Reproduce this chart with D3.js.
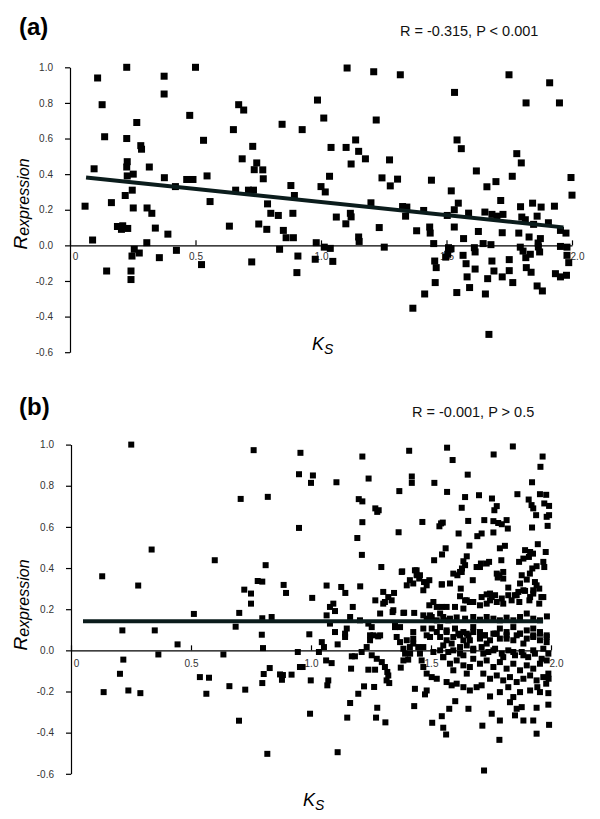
<!DOCTYPE html>
<html>
<head>
<meta charset="utf-8">
<script src="https://cdn.jsdelivr.net/npm/d3@7"></script>
<style>
  body { margin: 0; background: #fff; }
  text { font-family: Arial, "Liberation Sans", sans-serif; }
</style>
</head>
<body>
<svg id="chart" width="600" height="819"></svg>
<script>
// tick values shared by both panels
const xTicks = [0, 0.5, 1.0, 1.5, 2.0];
const yTicks = [-0.6, -0.4, -0.2, 0.0, 0.2, 0.4, 0.6, 0.8, 1.0];

const panelLabels = ["(a)", "(b)"];
const statLabels = ["R = -0.315, P < 0.001", "R = -0.001, P > 0.5"];

// panel (a): [Ks, R expression]
const seriesA = [
  [0.06, 0.22], [0.09, 0.03], [0.096, 0.43], [0.11, 0.94], [0.128, 0.79], [0.138, 0.61],
  [0.165, 0.24], [0.226, 1.0], [0.226, 0.60], [0.228, 0.47], [0.226, 0.44], [0.228, 0.39],
  [0.252, 0.40], [0.22, 0.28], [0.248, 0.31], [0.266, 0.69], [0.189, 0.106], [0.205, 0.09],
  [0.21, 0.11], [0.23, 0.095], [0.252, 0.21], [0.282, 0.56], [0.285, 0.54], [0.316, 0.44],
  [0.307, 0.21], [0.326, 0.18], [0.306, 0.015], [0.34, 0.097], [0.375, 0.95], [0.375, 0.85],
  [0.376, 0.38], [0.39, 0.063], [0.42, 0.33], [0.5, 1.0], [0.477, 0.73], [0.465, 0.37],
  [0.49, 0.37], [0.532, 0.59], [0.546, 0.39], [0.558, 0.246], [0.635, 0.108], [0.651, 0.65],
  [0.672, 0.79], [0.692, 0.76], [0.686, 0.486], [0.728, 0.556], [0.744, 0.463], [0.734, 0.425],
  [0.768, 0.424], [0.77, 0.374], [0.66, 0.31], [0.711, 0.31], [0.731, 0.31], [0.787, 0.233],
  [0.80, 0.18], [0.83, 0.168], [0.752, 0.12], [0.784, 0.09], [0.845, 0.68], [0.88, 0.336],
  [0.894, 0.28], [0.888, 0.18], [0.85, 0.084], [0.861, 0.043], [0.89, 0.043], [0.835, -0.022],
  [0.925, 0.65], [0.146, -0.144], [0.243, -0.144], [0.243, -0.192], [0.247, -0.06], [0.256, -0.022],
  [0.276, -0.043], [0.356, -0.069], [0.424, -0.028], [0.524, -0.108], [0.724, -0.093], [0.908, -0.06],
  [0.904, -0.153],
  [1.104, 0.996], [1.21, 0.975], [1.316, 0.958], [0.986, 0.816], [1.011, 0.715], [1.22, 0.704],
  [1.138, 0.592], [1.04, 0.55], [1.10, 0.55], [1.15, 0.528], [1.177, 0.486], [1.12, 0.457],
  [1.273, 0.48], [1.034, 0.388], [1.243, 0.379], [1.305, 0.372], [1.276, 0.334], [1.0, 0.33],
  [1.017, 0.30], [1.44, 0.366], [1.532, 0.859], [1.542, 0.592], [1.559, 0.543], [1.619, 0.418],
  [1.519, 0.306], [1.661, 0.329], [1.697, 0.358], [1.716, 0.252], [1.762, 0.388], [1.78, 0.515],
  [1.798, 0.463], [1.749, 0.958], [1.817, 0.8], [1.911, 0.913], [1.95, 0.8], [1.996, 0.381],
  [2.0, 0.282], [1.199, 0.239], [1.325, 0.218], [1.342, 0.215], [1.337, 0.164], [1.409, 0.196],
  [1.061, 0.159], [1.117, 0.18], [1.12, 0.16], [1.099, 0.121], [1.232, 0.10], [1.381, 0.082],
  [1.433, 0.103], [1.435, 0.069], [1.15, 0.047], [1.152, 0.022], [1.503, 0.168], [1.531, 0.2],
  [1.547, 0.237], [1.531, 0.103], [1.568, 0.038], [1.588, 0.181], [1.627, 0.078], [1.653, 0.187],
  [1.681, 0.174], [1.701, 0.164], [1.725, 0.174], [1.722, 0.071], [1.788, 0.069], [1.795, 0.217],
  [1.8, 0.159], [1.814, 0.144], [1.843, 0.237], [1.877, 0.215], [1.861, 0.164], [1.847, 0.118],
  [1.829, 0.047], [1.874, 0.038], [1.93, 0.22], [1.906, 0.127], [1.954, 0.084], [1.976, 0.069],
  [0.981, 0.015], [1.013, -0.01], [1.037, -0.017], [1.252, -0.01], [1.449, 0.01], [1.508, -0.013],
  [1.611, -0.013], [1.646, 0.01], [1.677, 0.004], [1.794, -0.01], [1.865, 0.013], [1.954, -0.006],
  [1.98, -0.01],
  [0.977, -0.078], [1.047, -0.09], [1.518, -0.019], [1.497, -0.066], [1.505, -0.05], [1.453, -0.088],
  [1.459, -0.125], [1.455, -0.209], [1.413, -0.273], [1.366, -0.353], [1.566, -0.056], [1.578, -0.103],
  [1.614, -0.037], [1.614, -0.133], [1.582, -0.177], [1.592, -0.237], [1.541, -0.265], [1.681, -0.088],
  [1.689, -0.144], [1.664, -0.187], [1.655, -0.273], [1.722, -0.177], [1.75, -0.08], [1.75, -0.142],
  [1.764, -0.209], [1.669, -0.5], [1.805, -0.032], [1.816, -0.069], [1.834, -0.05], [1.866, -0.009],
  [1.871, -0.037], [1.818, -0.125], [1.837, -0.151], [1.861, -0.228], [1.882, -0.256], [1.98, -0.056],
  [1.987, -0.097], [1.934, -0.159], [1.954, -0.177], [1.978, -0.168]
];
const fitA = [[0.064, 0.381], [1.966, 0.101]];

// panel (b): [Ks, R expression]
const seriesB = [
  [0.251, 1.0], [0.761, 0.973], [0.956, 0.96], [1.214, 0.942], [1.409, 0.97], [1.567, 0.985],
  [1.59, 0.925], [1.761, 0.952], [1.841, 0.991], [1.965, 0.942], [1.956, 0.892], [0.95, 0.856],
  [1.008, 0.85], [1.106, 0.817], [1.24, 0.835], [1.42, 0.845], [1.653, 0.854], [1.921, 0.817],
  [0.13, 0.36], [0.336, 0.49], [0.28, 0.315], [0.599, 0.438], [0.512, 0.177], [0.214, 0.097],
  [0.349, 0.097], [0.707, 0.736], [0.82, 0.746], [0.95, 0.595], [0.811, 0.414], [0.722, 0.295],
  [0.75, 0.276], [0.778, 0.337], [0.797, 0.334], [0.75, 0.227], [0.886, 0.318], [0.896, 0.279],
  [0.701, 0.182], [0.797, 0.156], [0.836, 0.162], [0.686, 0.115], [0.795, 0.076],
  [0.444, 0.029], [0.8, 0.011], [0.945, -0.008], [0.218, -0.045], [0.364, -0.02], [0.635, -0.02],
  [0.204, -0.114], [0.136, -0.203], [0.239, -0.195], [0.289, -0.208], [0.537, -0.13], [0.575, -0.133],
  [0.564, -0.211], [0.66, -0.174], [0.726, -0.191], [0.7, -0.342], [0.818, -0.503], [0.797, -0.159],
  [0.803, -0.115], [0.828, -0.086], [0.871, -0.117], [0.879, -0.143], [0.883, -0.12], [0.919, -0.118],
  [0.954, -0.081],
  [1.0, 0.814], [1.42, 0.814], [1.514, 0.814], [1.368, 0.774], [1.567, 0.77], [1.642, 0.745],
  [1.7, 0.754], [1.754, 0.738], [1.86, 0.759], [1.954, 0.759], [1.98, 0.756], [1.199, 0.735],
  [1.214, 0.724], [1.907, 0.733], [1.919, 0.706], [1.926, 0.69], [1.972, 0.714], [1.992, 0.702],
  [1.628, 0.693], [1.774, 0.701], [1.764, 0.681], [1.268, 0.69], [1.282, 0.681], [1.276, 0.673],
  [1.938, 0.657], [1.982, 0.649], [1.992, 0.657], [1.214, 0.623], [1.464, 0.624], [1.542, 0.617],
  [1.549, 0.621], [1.535, 0.603], [1.655, 0.629], [1.722, 0.633], [1.76, 0.628], [1.78, 0.619],
  [1.795, 0.613], [1.815, 0.633], [1.82, 0.592], [1.986, 0.605], [1.921, 0.597], [1.193, 0.546],
  [1.365, 0.574], [1.615, 0.568], [1.693, 0.555], [1.711, 0.568], [1.76, 0.573], [1.212, 0.464],
  [1.66, 0.509], [1.787, 0.496], [1.808, 0.508], [1.945, 0.516], [1.561, 0.496], [1.546, 0.466],
  [1.892, 0.487], [1.913, 0.478], [1.978, 0.478], [1.513, 0.438], [1.649, 0.457], [1.635, 0.433],
  [1.642, 0.414], [1.629, 0.398], [1.69, 0.405], [1.708, 0.422], [1.742, 0.43], [1.793, 0.438],
  [1.867, 0.43], [1.885, 0.446], [1.908, 0.454], [1.925, 0.47], [1.94, 0.409], [1.968, 0.43],
  [1.972, 0.405], [1.293, 0.405], [1.38, 0.384], [1.433, 0.389], [1.44, 0.365], [1.451, 0.349],
  [1.471, 0.332], [1.482, 0.316], [1.493, 0.341], [1.412, 0.341], [1.399, 0.316], [1.593, 0.373],
  [1.61, 0.365], [1.628, 0.381], [1.674, 0.341], [1.801, 0.381], [1.778, 0.354], [1.785, 0.365],
  [1.878, 0.365], [1.899, 0.344], [1.912, 0.373], [1.922, 0.398], [1.871, 0.325], [1.933, 0.332],
  [1.94, 0.316], [1.951, 0.3], [1.926, 0.292], [1.065, 0.315], [1.126, 0.308], [1.143, 0.279],
  [1.205, 0.311], [1.005, 0.255], [1.545, 0.32], [1.579, 0.325], [1.624, 0.3], [1.822, 0.305],
  [1.864, 0.284], [1.85, 0.268], [1.301, 0.284], [1.322, 0.259], [1.346, 0.279], [1.308, 0.235],
  [1.336, 0.243], [1.268, 0.243], [1.621, 0.263], [1.642, 0.243], [1.662, 0.235], [1.711, 0.259],
  [1.732, 0.272], [1.753, 0.259], [1.767, 0.268], [1.746, 0.243], [1.732, 0.227], [1.774, 0.235],
  [1.795, 0.252], [1.801, 0.227], [1.822, 0.268], [1.836, 0.243], [1.51, 0.235], [1.493, 0.219],
  [1.524, 0.211], [1.545, 0.211], [1.565, 0.211], [1.6, 0.211], [1.635, 0.203], [1.868, 0.235],
  [1.892, 0.289], [1.91, 0.243], [1.926, 0.276], [1.951, 0.227], [1.96, 0.259], [1.093, 0.227],
  [1.079, 0.211], [1.1, 0.191], [1.065, 0.17], [1.174, 0.211], [1.163, 0.162], [1.288, 0.179],
  [1.34, 0.186], [1.388, 0.183], [1.43, 0.182], [1.468, 0.17], [1.482, 0.154], [1.503, 0.162],
  [1.524, 0.146], [1.551, 0.162], [1.572, 0.146], [1.607, 0.16], [1.642, 0.154], [1.676, 0.162],
  [1.704, 0.149], [1.732, 0.162], [1.76, 0.154], [1.787, 0.146], [1.815, 0.159], [1.843, 0.146],
  [1.871, 0.162], [1.899, 0.179], [1.926, 0.154], [1.954, 0.146], [1.983, 0.165], [1.204, 0.146],
  [1.239, 0.13], [1.253, 0.113], [1.35, 0.122], [0.993, 0.078], [1.079, 0.13], [1.1, 0.089],
  [1.142, 0.081], [1.149, 0.106], [1.246, 0.073], [1.288, 0.073], [1.357, 0.065], [1.426, 0.057],
  [1.482, 0.073], [1.503, 0.106], [1.538, 0.113], [1.565, 0.089], [1.6, 0.106], [1.621, 0.073],
  [1.649, 0.081], [1.676, 0.113], [1.704, 0.089], [1.725, 0.073], [1.76, 0.081], [1.787, 0.106],
  [1.815, 0.089], [1.843, 0.113], [1.871, 0.081], [1.899, 0.097], [1.926, 0.106], [1.954, 0.081],
  [1.982, 0.073],
  [1.378, 0.381], [1.44, 0.389], [1.454, 0.365], [1.426, 0.325], [1.468, 0.292], [1.545, 0.321],
  [1.621, 0.381], [1.704, 0.405], [1.732, 0.422], [1.774, 0.373], [1.801, 0.349], [1.649, 0.243],
  [1.676, 0.235], [1.704, 0.219], [1.746, 0.276], [1.857, 0.268], [1.885, 0.292], [1.913, 0.259],
  [1.968, 0.259], [1.301, 0.227], [1.343, 0.195], [1.385, 0.182], [1.496, 0.17], [1.538, 0.179],
  [1.579, 0.154],
  [1.371, 0.113], [1.426, 0.089], [1.468, 0.106], [1.496, 0.065], [1.524, 0.089], [1.565, 0.049],
  [1.635, 0.089], [1.662, 0.049], [1.704, 0.065], [1.732, 0.033], [1.774, 0.081], [1.815, 0.057],
  [1.857, 0.073], [1.885, 0.033], [1.926, 0.065], [1.954, 0.089], [1.982, 0.04],
  [1.385, 0.008], [1.413, -0.016], [1.468, 0.016], [1.51, -0.008], [1.551, -0.033], [1.593, 0.0],
  [1.635, -0.024], [1.676, 0.008], [1.718, -0.016], [1.76, 0.0], [1.801, -0.033], [1.843, -0.008],
  [1.885, -0.024], [1.926, 0.0], [1.968, 0.008],
  [1.045, 0.04], [1.054, 0.016], [1.033, -0.008], [0.965, -0.081], [1.063, -0.049], [1.086, -0.062],
  [0.999, -0.146], [1.072, -0.146], [1.068, -0.17], [0.996, -0.308], [1.111, -0.495], [1.111, 0.029],
  [1.142, 0.065], [1.17, -0.029], [1.183, -0.029], [1.167, -0.089], [1.211, -0.008], [1.232, 0.016],
  [1.246, 0.049], [1.26, 0.073], [1.28, 0.068], [1.253, -0.024], [1.274, -0.041], [1.295, -0.057],
  [1.308, -0.081], [1.318, -0.105], [1.322, -0.122], [1.315, -0.146], [1.239, -0.094], [1.267, -0.094],
  [1.326, -0.159], [1.221, -0.175], [1.263, -0.178], [1.197, -0.211], [1.163, -0.256], [1.151, -0.327],
  [1.276, -0.279], [1.271, -0.327], [1.31, -0.35], [1.35, 0.113], [1.371, 0.04], [1.374, -0.084],
  [1.399, 0.049], [1.412, 0.016], [1.392, -0.016], [1.385, -0.049], [1.405, -0.045], [1.433, -0.187],
  [1.43, -0.271], [1.426, 0.033], [1.447, 0.016], [1.454, -0.016], [1.461, -0.049], [1.468, -0.081],
  [1.482, -0.113], [1.503, -0.13], [1.524, -0.138], [1.482, -0.195], [1.475, -0.214], [1.505, -0.352],
  [1.545, -0.32], [1.551, -0.376], [1.563, -0.409], [1.576, -0.284], [1.601, -0.247], [1.538, 0.0],
  [1.551, -0.033], [1.572, -0.008], [1.579, -0.065], [1.593, -0.097], [1.607, -0.049], [1.621, -0.016],
  [1.635, -0.073], [1.649, -0.113], [1.662, -0.081], [1.565, -0.154], [1.586, -0.17], [1.607, -0.162],
  [1.635, -0.179], [1.662, -0.195], [1.69, -0.179],
  [1.538, 0.065], [1.565, 0.097], [1.593, 0.065], [1.614, 0.081], [1.635, 0.049], [1.656, 0.073],
  [1.676, 0.089], [1.704, 0.057], [1.725, 0.073], [1.746, 0.049], [1.767, 0.081], [1.787, 0.057],
  [1.815, 0.073], [1.843, 0.049], [1.871, 0.081], [1.899, 0.057], [1.926, 0.073], [1.954, 0.049],
  [1.982, 0.065],
  [1.551, 0.024], [1.586, 0.033], [1.621, 0.016], [1.649, 0.024], [1.676, 0.0], [1.711, 0.016],
  [1.739, -0.008], [1.767, 0.008], [1.795, -0.016], [1.822, 0.0], [1.85, -0.024], [1.878, -0.008],
  [1.905, -0.033], [1.933, -0.016], [1.961, -0.041], [1.989, -0.016],
  [1.676, -0.041], [1.704, -0.065], [1.732, -0.049], [1.76, -0.081], [1.787, -0.057], [1.815, -0.089],
  [1.843, -0.065], [1.871, -0.097], [1.899, -0.073], [1.926, -0.089], [1.954, -0.065], [1.982, -0.049],
  [1.718, -0.113], [1.746, -0.138], [1.774, -0.122], [1.801, -0.146], [1.829, -0.13], [1.857, -0.154],
  [1.885, -0.138], [1.913, -0.122], [1.94, -0.146], [1.968, -0.13], [1.989, -0.113],
  [1.711, -0.17], [1.746, -0.224], [1.787, -0.203], [1.822, -0.179], [1.843, -0.227], [1.871, -0.203],
  [1.913, -0.195], [1.943, -0.179], [1.954, -0.203], [1.989, -0.208],
  [1.829, -0.252], [1.857, -0.284], [1.85, -0.316], [1.878, -0.276], [1.926, -0.341], [1.94, -0.279],
  [1.989, -0.264], [1.885, -0.341], [1.656, -0.284], [1.753, -0.308], [1.787, -0.341], [1.714, -0.366],
  [1.785, -0.435], [1.94, -0.405], [1.992, -0.362], [1.721, -0.584], [1.99, -0.138], [1.98, -0.162]
];
const fitB = [[0.05, 0.141], [1.967, 0.141]];

const svg = d3.select("#chart");

// layout of the two stacked panels
const panels = [
  { data: seriesA, fit: fitA, label: panelLabels[0], stat: statLabels[0],
    xRange: [70, 572], yRange: [352.2, 67.3], size: 7, pad: 8,
    labelPos: [19, 35], statPos: [400, 36], yTitle: [27, 204], xTitle: [312, 350] },
  { data: seriesB, fit: fitB, label: panelLabels[1], stat: statLabels[1],
    xRange: [71, 551], yRange: [773.8, 444.6], size: 6, pad: 10,
    labelPos: [19, 415], statPos: [412, 417], yTitle: [27, 605], xTitle: [303, 806] }
];

panels.forEach(function(p) {
  const g = svg.append("g");
  const x = d3.scaleLinear().domain([0, 2]).range(p.xRange);
  const y = d3.scaleLinear().domain([-0.6, 1]).range(p.yRange);

  // x axis runs along R = 0, ticks pointing up
  const xAxis = g.append("g")
    .attr("transform", "translate(0," + y(0) + ")")
    .call(d3.axisBottom(x)
      .tickValues(xTicks)
      .tickSize(-5)
      .tickSizeOuter(0)
      .tickPadding(p.pad)
      .tickFormat(function(d) { return d === 0 ? "0" : d.toFixed(1); }));
  xAxis.selectAll(".tick text")
    .attr("dx", function(d) { return (d === 0 || d === 2) ? 5 : 0; });

  g.append("g")
    .attr("transform", "translate(" + x(0) + ",0)")
    .call(d3.axisLeft(y)
      .tickValues(yTicks)
      .tickSize(5)
      .tickSizeOuter(0)
      .tickPadding(12)
      .tickFormat(function(d) { return d.toFixed(1); }));

  g.selectAll(".domain, .tick line").attr("stroke", "#000").attr("stroke-width", 1.2);
  g.selectAll(".tick text").attr("fill", "#333").attr("font-size", 10)
    .attr("font-family", "Arial, 'Liberation Sans', sans-serif");

  // points
  g.selectAll(".pt")
    .data(p.data)
    .enter().append("rect")
    .attr("class", "pt")
    .attr("x", function(d) { return x(d[0]) - p.size / 2; })
    .attr("y", function(d) { return y(d[1]) - p.size / 2; })
    .attr("width", p.size)
    .attr("height", p.size)
    .attr("fill", "#000");

  // regression line
  g.append("path")
    .datum(p.fit)
    .attr("d", d3.line().x(function(d) { return x(d[0]); }).y(function(d) { return y(d[1]); }))
    .attr("fill", "none")
    .attr("stroke", "#0b1c1c")
    .attr("stroke-width", 4);

  // panel letter and stats
  g.append("text")
    .attr("x", p.labelPos[0]).attr("y", p.labelPos[1])
    .attr("font-size", 24).attr("font-weight", "bold")
    .text(p.label);
  g.append("text")
    .attr("x", p.statPos[0]).attr("y", p.statPos[1])
    .attr("font-size", 14.5).attr("fill", "#111")
    .text(p.stat);

  // y title: R with subscript "expression"
  const yt = g.append("text")
    .attr("transform", "translate(" + p.yTitle[0] + "," + p.yTitle[1] + ") rotate(-90)")
    .attr("text-anchor", "middle")
    .attr("font-style", "italic");
  yt.append("tspan").attr("font-size", 19).text("R");
  yt.append("tspan").attr("font-size", 16).attr("dy", 2).text("expression");

  // x title: K with subscript S
  const xt = g.append("text")
    .attr("x", p.xTitle[0]).attr("y", p.xTitle[1])
    .attr("font-style", "italic");
  xt.append("tspan").attr("font-size", 18).text("K");
  xt.append("tspan").attr("font-size", 14).attr("dy", 4).text("S");
});
</script>
</body>
</html>
